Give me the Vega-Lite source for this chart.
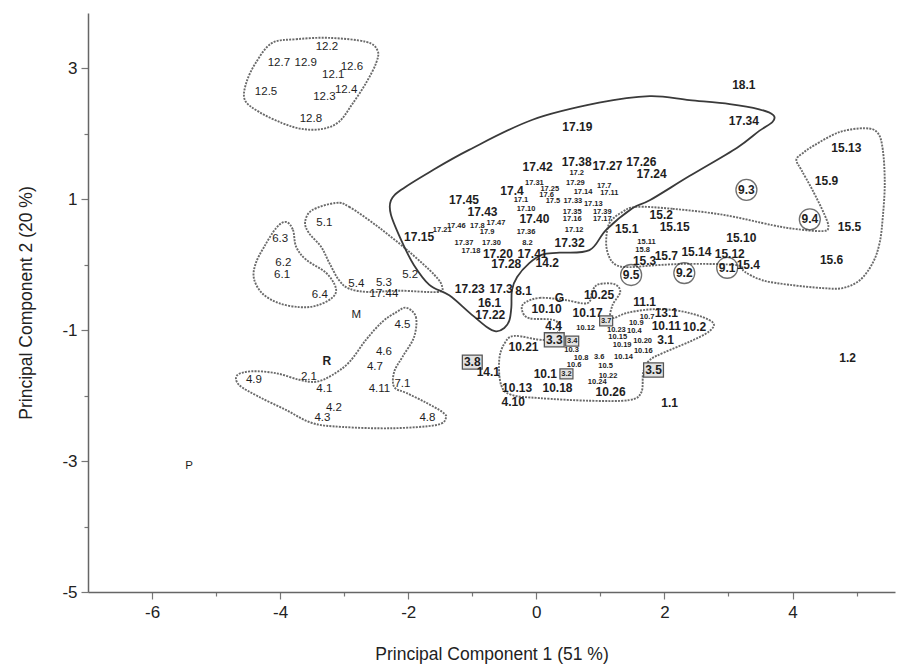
{
 "$schema": "https://vega.github.io/schema/vega-lite/v6.json",
 "width": 807, "height": 579,
 "autosize": {"type": "none"},
 "padding": {"left": 88, "top": 13, "right": 3, "bottom": 78},
 "background": "white",
 "config": {"view": {"stroke": null}, "font": "Liberation Sans"},
 "datasets": {
  "pts": [
   {"label":"12.2","pc1":-3.27,"pc2":3.32,"type":"plain"},
   {"label":"12.7","pc1":-4.02,"pc2":3.08,"type":"plain"},
   {"label":"12.9","pc1":-3.6,"pc2":3.08,"type":"plain"},
   {"label":"12.6","pc1":-2.88,"pc2":3.02,"type":"plain"},
   {"label":"12.1","pc1":-3.17,"pc2":2.89,"type":"plain"},
   {"label":"12.4","pc1":-2.97,"pc2":2.66,"type":"plain"},
   {"label":"12.3","pc1":-3.31,"pc2":2.56,"type":"plain"},
   {"label":"12.5","pc1":-4.22,"pc2":2.63,"type":"plain"},
   {"label":"12.8","pc1":-3.52,"pc2":2.22,"type":"plain"},
   {"label":"5.1","pc1":-3.31,"pc2":0.63,"type":"plain"},
   {"label":"6.3","pc1":-4.0,"pc2":0.39,"type":"plain"},
   {"label":"6.2","pc1":-3.95,"pc2":0.02,"type":"plain"},
   {"label":"6.1","pc1":-3.97,"pc2":-0.16,"type":"plain"},
   {"label":"6.4","pc1":-3.38,"pc2":-0.47,"type":"plain"},
   {"label":"5.4","pc1":-2.81,"pc2":-0.3,"type":"plain"},
   {"label":"5.3","pc1":-2.38,"pc2":-0.28,"type":"plain"},
   {"label":"17.44","pc1":-2.38,"pc2":-0.45,"type":"plain"},
   {"label":"5.2","pc1":-1.97,"pc2":-0.16,"type":"plain"},
   {"label":"M","pc1":-2.81,"pc2":-0.77,"type":"plain"},
   {"label":"4.5","pc1":-2.09,"pc2":-0.92,"type":"plain"},
   {"label":"4.6","pc1":-2.38,"pc2":-1.34,"type":"plain"},
   {"label":"R","pc1":-3.27,"pc2":-1.47,"type":"bold"},
   {"label":"4.7","pc1":-2.52,"pc2":-1.56,"type":"plain"},
   {"label":"2.1","pc1":-3.55,"pc2":-1.72,"type":"plain"},
   {"label":"4.9","pc1":-4.41,"pc2":-1.76,"type":"plain"},
   {"label":"4.1","pc1":-3.31,"pc2":-1.9,"type":"plain"},
   {"label":"4.11","pc1":-2.45,"pc2":-1.9,"type":"plain"},
   {"label":"7.1","pc1":-2.09,"pc2":-1.82,"type":"plain"},
   {"label":"4.2","pc1":-3.16,"pc2":-2.19,"type":"plain"},
   {"label":"4.3","pc1":-3.34,"pc2":-2.34,"type":"plain"},
   {"label":"4.8","pc1":-1.7,"pc2":-2.34,"type":"plain"},
   {"label":"P","pc1":-5.42,"pc2":-3.08,"type":"plain"},
   {"label":"17.19","pc1":0.64,"pc2":2.1,"type":"bold"},
   {"label":"17.42","pc1":0.02,"pc2":1.49,"type":"bold"},
   {"label":"17.38","pc1":0.63,"pc2":1.56,"type":"bold"},
   {"label":"17.27","pc1":1.11,"pc2":1.5,"type":"bold"},
   {"label":"17.26","pc1":1.64,"pc2":1.56,"type":"bold"},
   {"label":"17.24","pc1":1.8,"pc2":1.38,"type":"bold"},
   {"label":"17.2","pc1":0.63,"pc2":1.4,"type":"small"},
   {"label":"17.31","pc1":-0.03,"pc2":1.24,"type":"small"},
   {"label":"17.29","pc1":0.61,"pc2":1.24,"type":"small"},
   {"label":"17.7","pc1":1.06,"pc2":1.2,"type":"small"},
   {"label":"17.11","pc1":1.14,"pc2":1.09,"type":"small"},
   {"label":"17.4","pc1":-0.38,"pc2":1.12,"type":"bold"},
   {"label":"17.25","pc1":0.21,"pc2":1.16,"type":"small"},
   {"label":"17.14","pc1":0.73,"pc2":1.11,"type":"small"},
   {"label":"17.6","pc1":0.16,"pc2":1.06,"type":"small"},
   {"label":"17.5","pc1":0.26,"pc2":0.97,"type":"small"},
   {"label":"17.33","pc1":0.57,"pc2":0.97,"type":"small"},
   {"label":"17.13","pc1":0.89,"pc2":0.93,"type":"small"},
   {"label":"17.1","pc1":-0.24,"pc2":0.98,"type":"small"},
   {"label":"17.45","pc1":-1.13,"pc2":0.98,"type":"bold"},
   {"label":"17.10","pc1":-0.16,"pc2":0.85,"type":"small"},
   {"label":"17.43","pc1":-0.84,"pc2":0.8,"type":"bold"},
   {"label":"17.40","pc1":-0.03,"pc2":0.69,"type":"bold"},
   {"label":"17.35","pc1":0.56,"pc2":0.8,"type":"small"},
   {"label":"17.39","pc1":1.03,"pc2":0.8,"type":"small"},
   {"label":"17.16","pc1":0.56,"pc2":0.69,"type":"small"},
   {"label":"17.17","pc1":1.03,"pc2":0.69,"type":"small"},
   {"label":"17.46","pc1":-1.25,"pc2":0.59,"type":"small"},
   {"label":"17.8","pc1":-0.92,"pc2":0.59,"type":"small"},
   {"label":"17.47","pc1":-0.63,"pc2":0.63,"type":"small"},
   {"label":"17.21","pc1":-1.47,"pc2":0.53,"type":"small"},
   {"label":"17.15","pc1":-1.83,"pc2":0.42,"type":"bold"},
   {"label":"17.12","pc1":0.59,"pc2":0.53,"type":"small"},
   {"label":"17.9","pc1":-0.77,"pc2":0.5,"type":"small"},
   {"label":"17.36","pc1":-0.16,"pc2":0.5,"type":"small"},
   {"label":"17.37","pc1":-1.13,"pc2":0.33,"type":"small"},
   {"label":"17.30","pc1":-0.7,"pc2":0.33,"type":"small"},
   {"label":"8.2","pc1":-0.14,"pc2":0.33,"type":"small"},
   {"label":"17.32","pc1":0.52,"pc2":0.33,"type":"bold"},
   {"label":"17.18","pc1":-1.02,"pc2":0.21,"type":"small"},
   {"label":"17.20","pc1":-0.6,"pc2":0.16,"type":"bold"},
   {"label":"17.41","pc1":-0.06,"pc2":0.16,"type":"bold"},
   {"label":"17.28","pc1":-0.47,"pc2":0.01,"type":"bold"},
   {"label":"14.2","pc1":0.17,"pc2":0.02,"type":"bold"},
   {"label":"17.23","pc1":-1.04,"pc2":-0.37,"type":"bold"},
   {"label":"17.3","pc1":-0.55,"pc2":-0.37,"type":"bold"},
   {"label":"8.1","pc1":-0.2,"pc2":-0.4,"type":"bold"},
   {"label":"16.1","pc1":-0.73,"pc2":-0.59,"type":"bold"},
   {"label":"17.22","pc1":-0.72,"pc2":-0.77,"type":"bold"},
   {"label":"18.1","pc1":3.24,"pc2":2.74,"type":"bold"},
   {"label":"17.34","pc1":3.24,"pc2":2.19,"type":"bold"},
   {"label":"15.13","pc1":4.84,"pc2":1.78,"type":"bold"},
   {"label":"15.9","pc1":4.53,"pc2":1.27,"type":"bold"},
   {"label":"15.5","pc1":4.89,"pc2":0.57,"type":"bold"},
   {"label":"15.6","pc1":4.61,"pc2":0.07,"type":"bold"},
   {"label":"15.2","pc1":1.95,"pc2":0.76,"type":"bold"},
   {"label":"15.15","pc1":2.16,"pc2":0.57,"type":"bold"},
   {"label":"15.1","pc1":1.41,"pc2":0.54,"type":"bold"},
   {"label":"15.10","pc1":3.2,"pc2":0.4,"type":"bold"},
   {"label":"15.11","pc1":1.72,"pc2":0.34,"type":"small"},
   {"label":"15.8","pc1":1.66,"pc2":0.22,"type":"small"},
   {"label":"15.3","pc1":1.69,"pc2":0.05,"type":"bold"},
   {"label":"15.7","pc1":2.03,"pc2":0.13,"type":"bold"},
   {"label":"15.14","pc1":2.5,"pc2":0.19,"type":"bold"},
   {"label":"15.12","pc1":3.02,"pc2":0.16,"type":"bold"},
   {"label":"15.4","pc1":3.31,"pc2":-0.01,"type":"bold"},
   {"label":"9.3","pc1":3.28,"pc2":1.14,"type":"circled"},
   {"label":"9.4","pc1":4.27,"pc2":0.69,"type":"circled"},
   {"label":"9.5","pc1":1.48,"pc2":-0.16,"type":"circled"},
   {"label":"9.2","pc1":2.31,"pc2":-0.13,"type":"circled"},
   {"label":"9.1","pc1":2.98,"pc2":-0.05,"type":"circled"},
   {"label":"G","pc1":0.36,"pc2":-0.51,"type":"bold"},
   {"label":"10.25","pc1":0.98,"pc2":-0.47,"type":"bold"},
   {"label":"10.10","pc1":0.16,"pc2":-0.68,"type":"bold"},
   {"label":"10.17","pc1":0.8,"pc2":-0.74,"type":"bold"},
   {"label":"3.7","pc1":1.09,"pc2":-0.86,"type":"smallbox"},
   {"label":"4.4","pc1":0.27,"pc2":-0.94,"type":"bold"},
   {"label":"11.1","pc1":1.69,"pc2":-0.57,"type":"bold"},
   {"label":"13.1","pc1":2.03,"pc2":-0.74,"type":"bold"},
   {"label":"10.7","pc1":1.73,"pc2":-0.8,"type":"small"},
   {"label":"10.12","pc1":0.77,"pc2":-0.97,"type":"small"},
   {"label":"10.9","pc1":1.56,"pc2":-0.89,"type":"small"},
   {"label":"10.11","pc1":2.03,"pc2":-0.94,"type":"bold"},
   {"label":"10.2","pc1":2.47,"pc2":-0.95,"type":"bold"},
   {"label":"10.23","pc1":1.25,"pc2":-1.0,"type":"small"},
   {"label":"10.4","pc1":1.53,"pc2":-1.02,"type":"small"},
   {"label":"10.15","pc1":1.27,"pc2":-1.11,"type":"small"},
   {"label":"10.20","pc1":1.66,"pc2":-1.17,"type":"small"},
   {"label":"3.1","pc1":2.02,"pc2":-1.15,"type":"bold"},
   {"label":"10.19","pc1":1.34,"pc2":-1.23,"type":"small"},
   {"label":"10.16","pc1":1.67,"pc2":-1.32,"type":"small"},
   {"label":"3.3","pc1":0.28,"pc2":-1.15,"type":"box"},
   {"label":"3.4","pc1":0.56,"pc2":-1.17,"type":"smallbox"},
   {"label":"10.21","pc1":-0.2,"pc2":-1.26,"type":"bold"},
   {"label":"10.3","pc1":0.55,"pc2":-1.31,"type":"small"},
   {"label":"10.8","pc1":0.7,"pc2":-1.43,"type":"small"},
   {"label":"3.6","pc1":0.98,"pc2":-1.41,"type":"small"},
   {"label":"10.14","pc1":1.36,"pc2":-1.41,"type":"small"},
   {"label":"10.6","pc1":0.59,"pc2":-1.53,"type":"small"},
   {"label":"10.5","pc1":1.08,"pc2":-1.55,"type":"small"},
   {"label":"3.8","pc1":-1.0,"pc2":-1.49,"type":"box"},
   {"label":"14.1","pc1":-0.75,"pc2":-1.64,"type":"bold"},
   {"label":"3.5","pc1":1.83,"pc2":-1.61,"type":"box"},
   {"label":"10.1","pc1":0.14,"pc2":-1.67,"type":"bold"},
   {"label":"3.2","pc1":0.47,"pc2":-1.67,"type":"smallbox"},
   {"label":"10.22","pc1":1.12,"pc2":-1.7,"type":"small"},
   {"label":"10.24","pc1":0.95,"pc2":-1.79,"type":"small"},
   {"label":"10.13","pc1":-0.3,"pc2":-1.89,"type":"bold"},
   {"label":"10.18","pc1":0.33,"pc2":-1.89,"type":"bold"},
   {"label":"10.26","pc1":1.16,"pc2":-1.95,"type":"bold"},
   {"label":"4.10","pc1":-0.36,"pc2":-2.1,"type":"bold"},
   {"label":"1.1","pc1":2.08,"pc2":-2.11,"type":"bold"},
   {"label":"1.2","pc1":4.86,"pc2":-1.43,"type":"bold"}
  ],
  "hull": [
   {"group":"g12","i":0,"pc1":-4.13,"pc2":3.38},{"group":"g12","i":1,"pc1":-3.75,"pc2":3.44},{"group":"g12","i":2,"pc1":-3.23,"pc2":3.46},{"group":"g12","i":3,"pc1":-2.66,"pc2":3.4},{"group":"g12","i":4,"pc1":-2.48,"pc2":3.27},{"group":"g12","i":5,"pc1":-2.5,"pc2":3.08},{"group":"g12","i":6,"pc1":-2.66,"pc2":2.77},{"group":"g12","i":7,"pc1":-2.88,"pc2":2.44},{"group":"g12","i":8,"pc1":-3.08,"pc2":2.18},{"group":"g12","i":9,"pc1":-3.34,"pc2":2.07},{"group":"g12","i":10,"pc1":-3.66,"pc2":2.07},{"group":"g12","i":11,"pc1":-3.97,"pc2":2.16},{"group":"g12","i":12,"pc1":-4.33,"pc2":2.33},{"group":"g12","i":13,"pc1":-4.55,"pc2":2.51},{"group":"g12","i":14,"pc1":-4.53,"pc2":2.77},{"group":"g12","i":15,"pc1":-4.38,"pc2":3.08},
   {"group":"g6","i":0,"pc1":-3.91,"pc2":0.65},{"group":"g6","i":1,"pc1":-3.8,"pc2":0.53},{"group":"g6","i":2,"pc1":-3.75,"pc2":0.27},{"group":"g6","i":3,"pc1":-3.59,"pc2":0.07},{"group":"g6","i":4,"pc1":-3.28,"pc2":-0.13},{"group":"g6","i":5,"pc1":-3.13,"pc2":-0.36},{"group":"g6","i":6,"pc1":-3.19,"pc2":-0.51},{"group":"g6","i":7,"pc1":-3.44,"pc2":-0.63},{"group":"g6","i":8,"pc1":-3.7,"pc2":-0.65},{"group":"g6","i":9,"pc1":-4.02,"pc2":-0.59},{"group":"g6","i":10,"pc1":-4.28,"pc2":-0.44},{"group":"g6","i":11,"pc1":-4.41,"pc2":-0.21},{"group":"g6","i":12,"pc1":-4.38,"pc2":0.02},{"group":"g6","i":13,"pc1":-4.25,"pc2":0.27},{"group":"g6","i":14,"pc1":-4.06,"pc2":0.56},
   {"group":"g5","i":0,"pc1":-3.13,"pc2":0.94},{"group":"g5","i":1,"pc1":-2.92,"pc2":0.88},{"group":"g5","i":2,"pc1":-2.45,"pc2":0.56},{"group":"g5","i":3,"pc1":-1.98,"pc2":0.19},{"group":"g5","i":4,"pc1":-1.59,"pc2":-0.16},{"group":"g5","i":5,"pc1":-1.47,"pc2":-0.34},{"group":"g5","i":6,"pc1":-1.55,"pc2":-0.42},{"group":"g5","i":7,"pc1":-2.14,"pc2":-0.4},{"group":"g5","i":8,"pc1":-2.61,"pc2":-0.42},{"group":"g5","i":9,"pc1":-2.92,"pc2":-0.37},{"group":"g5","i":10,"pc1":-3.08,"pc2":-0.24},{"group":"g5","i":11,"pc1":-3.23,"pc2":0.02},{"group":"g5","i":12,"pc1":-3.36,"pc2":0.27},{"group":"g5","i":13,"pc1":-3.55,"pc2":0.48},{"group":"g5","i":14,"pc1":-3.61,"pc2":0.65},{"group":"g5","i":15,"pc1":-3.5,"pc2":0.83},
   {"group":"g4","i":0,"pc1":-2.03,"pc2":-0.66},{"group":"g4","i":1,"pc1":-1.88,"pc2":-0.8},{"group":"g4","i":2,"pc1":-1.91,"pc2":-1.11},{"group":"g4","i":3,"pc1":-2.09,"pc2":-1.41},{"group":"g4","i":4,"pc1":-2.22,"pc2":-1.64},{"group":"g4","i":5,"pc1":-2.22,"pc2":-1.87},{"group":"g4","i":6,"pc1":-2.03,"pc2":-1.96},{"group":"g4","i":7,"pc1":-1.72,"pc2":-2.11},{"group":"g4","i":8,"pc1":-1.47,"pc2":-2.25},{"group":"g4","i":9,"pc1":-1.41,"pc2":-2.34},{"group":"g4","i":10,"pc1":-1.56,"pc2":-2.45},{"group":"g4","i":11,"pc1":-2.25,"pc2":-2.5},{"group":"g4","i":12,"pc1":-3.03,"pc2":-2.48},{"group":"g4","i":13,"pc1":-3.5,"pc2":-2.42},{"group":"g4","i":14,"pc1":-3.91,"pc2":-2.22},{"group":"g4","i":15,"pc1":-4.33,"pc2":-2.02},{"group":"g4","i":16,"pc1":-4.64,"pc2":-1.84},{"group":"g4","i":17,"pc1":-4.67,"pc2":-1.69},{"group":"g4","i":18,"pc1":-4.44,"pc2":-1.63},{"group":"g4","i":19,"pc1":-4.06,"pc2":-1.66},{"group":"g4","i":20,"pc1":-3.7,"pc2":-1.76},{"group":"g4","i":21,"pc1":-3.44,"pc2":-1.79},{"group":"g4","i":22,"pc1":-3.19,"pc2":-1.69},{"group":"g4","i":23,"pc1":-2.92,"pc2":-1.49},{"group":"g4","i":24,"pc1":-2.66,"pc2":-1.15},{"group":"g4","i":25,"pc1":-2.41,"pc2":-0.88},{"group":"g4","i":26,"pc1":-2.19,"pc2":-0.73},
   {"group":"g17","i":0,"pc1":-0.63,"pc2":-1.02},{"group":"g17","i":1,"pc1":-0.78,"pc2":-0.95},{"group":"g17","i":2,"pc1":-1.05,"pc2":-0.73},{"group":"g17","i":3,"pc1":-1.36,"pc2":-0.47},{"group":"g17","i":4,"pc1":-1.67,"pc2":-0.31},{"group":"g17","i":5,"pc1":-1.91,"pc2":-0.01},{"group":"g17","i":6,"pc1":-2.09,"pc2":0.33},{"group":"g17","i":7,"pc1":-2.27,"pc2":0.76},{"group":"g17","i":8,"pc1":-2.27,"pc2":0.98},{"group":"g17","i":9,"pc1":-2.11,"pc2":1.14},{"group":"g17","i":10,"pc1":-1.67,"pc2":1.41},{"group":"g17","i":11,"pc1":-1.05,"pc2":1.75},{"group":"g17","i":12,"pc1":-0.06,"pc2":2.21},{"group":"g17","i":13,"pc1":0.98,"pc2":2.47},{"group":"g17","i":14,"pc1":1.77,"pc2":2.57},{"group":"g17","i":15,"pc1":2.39,"pc2":2.51},{"group":"g17","i":16,"pc1":3.02,"pc2":2.45},{"group":"g17","i":17,"pc1":3.48,"pc2":2.37},{"group":"g17","i":18,"pc1":3.7,"pc2":2.28},{"group":"g17","i":19,"pc1":3.69,"pc2":2.18},{"group":"g17","i":20,"pc1":3.48,"pc2":2.04},{"group":"g17","i":21,"pc1":3.13,"pc2":1.78},{"group":"g17","i":22,"pc1":2.39,"pc2":1.35},{"group":"g17","i":23,"pc1":1.77,"pc2":0.98},{"group":"g17","i":24,"pc1":1.5,"pc2":0.86},{"group":"g17","i":25,"pc1":1.09,"pc2":0.53},{"group":"g17","i":26,"pc1":0.83,"pc2":0.22},{"group":"g17","i":27,"pc1":0.36,"pc2":0.18},{"group":"g17","i":28,"pc1":0.09,"pc2":0.15},{"group":"g17","i":29,"pc1":-0.11,"pc2":0.02},{"group":"g17","i":30,"pc1":-0.3,"pc2":-0.19},{"group":"g17","i":31,"pc1":-0.38,"pc2":-0.39},{"group":"g17","i":32,"pc1":-0.39,"pc2":-0.65},{"group":"g17","i":33,"pc1":-0.42,"pc2":-0.85},{"group":"g17","i":34,"pc1":-0.5,"pc2":-0.97},
   {"group":"g15","i":0,"pc1":1.56,"pc2":0.88},{"group":"g15","i":1,"pc1":2.13,"pc2":0.85},{"group":"g15","i":2,"pc1":2.91,"pc2":0.76},{"group":"g15","i":3,"pc1":3.69,"pc2":0.6},{"group":"g15","i":4,"pc1":4.06,"pc2":0.54},{"group":"g15","i":5,"pc1":4.47,"pc2":0.51},{"group":"g15","i":6,"pc1":4.56,"pc2":0.57},{"group":"g15","i":7,"pc1":4.5,"pc2":0.76},{"group":"g15","i":8,"pc1":4.31,"pc2":1.14},{"group":"g15","i":9,"pc1":4.14,"pc2":1.44},{"group":"g15","i":10,"pc1":4.06,"pc2":1.6},{"group":"g15","i":11,"pc1":4.16,"pc2":1.7},{"group":"g15","i":12,"pc1":4.34,"pc2":1.82},{"group":"g15","i":13,"pc1":4.73,"pc2":2.02},{"group":"g15","i":14,"pc1":5.13,"pc2":2.08},{"group":"g15","i":15,"pc1":5.33,"pc2":2.01},{"group":"g15","i":16,"pc1":5.41,"pc2":1.75},{"group":"g15","i":17,"pc1":5.44,"pc2":1.24},{"group":"g15","i":18,"pc1":5.41,"pc2":0.73},{"group":"g15","i":19,"pc1":5.36,"pc2":0.33},{"group":"g15","i":20,"pc1":5.25,"pc2":0.02},{"group":"g15","i":21,"pc1":5.05,"pc2":-0.24},{"group":"g15","i":22,"pc1":4.78,"pc2":-0.36},{"group":"g15","i":23,"pc1":4.47,"pc2":-0.36},{"group":"g15","i":24,"pc1":3.95,"pc2":-0.31},{"group":"g15","i":25,"pc1":3.53,"pc2":-0.24},{"group":"g15","i":26,"pc1":3.25,"pc2":-0.11},{"group":"g15","i":27,"pc1":3.13,"pc2":-0.01},{"group":"g15","i":28,"pc1":2.39,"pc2":0.01},{"group":"g15","i":29,"pc1":1.88,"pc2":-0.01},{"group":"g15","i":30,"pc1":1.45,"pc2":-0.04},{"group":"g15","i":31,"pc1":1.25,"pc2":-0.01},{"group":"g15","i":32,"pc1":1.14,"pc2":0.11},{"group":"g15","i":33,"pc1":1.09,"pc2":0.33},{"group":"g15","i":34,"pc1":1.14,"pc2":0.63},{"group":"g15","i":35,"pc1":1.34,"pc2":0.8},
   {"group":"g10","i":0,"pc1":-0.19,"pc2":-0.59},{"group":"g10","i":1,"pc1":0.05,"pc2":-0.51},{"group":"g10","i":2,"pc1":0.44,"pc2":-0.54},{"group":"g10","i":3,"pc1":0.8,"pc2":-0.59},{"group":"g10","i":4,"pc1":0.88,"pc2":-0.39},{"group":"g10","i":5,"pc1":0.98,"pc2":-0.3},{"group":"g10","i":6,"pc1":1.22,"pc2":-0.3},{"group":"g10","i":7,"pc1":1.31,"pc2":-0.42},{"group":"g10","i":8,"pc1":1.19,"pc2":-0.62},{"group":"g10","i":9,"pc1":1.17,"pc2":-0.82},{"group":"g10","i":10,"pc1":1.45,"pc2":-0.73},{"group":"g10","i":11,"pc1":1.92,"pc2":-0.68},{"group":"g10","i":12,"pc1":2.39,"pc2":-0.74},{"group":"g10","i":13,"pc1":2.75,"pc2":-0.88},{"group":"g10","i":14,"pc1":2.7,"pc2":-1.02},{"group":"g10","i":15,"pc1":2.39,"pc2":-1.18},{"group":"g10","i":16,"pc1":2.0,"pc2":-1.34},{"group":"g10","i":17,"pc1":1.77,"pc2":-1.46},{"group":"g10","i":18,"pc1":1.67,"pc2":-1.64},{"group":"g10","i":19,"pc1":1.64,"pc2":-1.95},{"group":"g10","i":20,"pc1":1.45,"pc2":-2.07},{"group":"g10","i":21,"pc1":0.83,"pc2":-2.08},{"group":"g10","i":22,"pc1":0.05,"pc2":-2.04},{"group":"g10","i":23,"pc1":-0.39,"pc2":-1.99},{"group":"g10","i":24,"pc1":-0.55,"pc2":-1.84},{"group":"g10","i":25,"pc1":-0.58,"pc2":-1.46},{"group":"g10","i":26,"pc1":-0.5,"pc2":-1.21},{"group":"g10","i":27,"pc1":-0.34,"pc2":-1.09},{"group":"g10","i":28,"pc1":0.13,"pc2":-1.15},{"group":"g10","i":29,"pc1":0.36,"pc2":-1.0},{"group":"g10","i":30,"pc1":0.28,"pc2":-0.85},{"group":"g10","i":31,"pc1":-0.11,"pc2":-0.82},{"group":"g10","i":32,"pc1":-0.22,"pc2":-0.71}
  ]
 },
 "encoding": {
  "x": {"field": "pc1", "type": "quantitative",
   "scale": {"domain": [-7, 5.6], "nice": false, "zero": false},
   "axis": {"title": "Principal Component 1 (51 %)",
    "values": [-6,-5,-4,-3,-2,-1,0,1,2,3,4,5],
    "labelExpr": "abs(datum.value % 2) < 0.5 ? '' + datum.value : ''",
    "tickSize": {"condition": {"test": "abs(datum.value % 2) < 0.5", "value": 7}, "value": 4},
    "labelFontSize": 17, "titleFontSize": 17.5, "titleFontWeight": "normal",
    "labelColor": "#222", "titleColor": "#222", "domainColor": "#666", "tickColor": "#777",
    "domainWidth": 1.5, "tickWidth": 1.2, "grid": false, "labelPadding": 5, "titlePadding": 25,
    "labelFlush": false, "labelOverlap": false}},
  "y": {"field": "pc2", "type": "quantitative",
   "scale": {"domain": [-5, 3.84], "nice": false, "zero": false},
   "axis": {"title": "Principal Component 2 (20 %)",
    "values": [-5,-4,-3,-2,-1,0,1,2,3],
    "labelExpr": "abs(datum.value % 2) > 0.5 ? '' + datum.value : ''",
    "tickSize": {"condition": {"test": "abs(datum.value % 2) > 0.5", "value": 7}, "value": 4},
    "labelFontSize": 17, "titleFontSize": 17.5, "titleFontWeight": "normal",
    "labelColor": "#222", "titleColor": "#222", "domainColor": "#666", "tickColor": "#777",
    "domainWidth": 1.5, "tickWidth": 1.2, "grid": false, "labelPadding": 4, "titlePadding": 26,
    "labelFlush": false, "labelOverlap": false}}
 },
 "layer": [
  {"data": {"name": "hull"}, "transform": [{"filter": "datum.group != 'g17'"}],
   "mark": {"type": "line", "interpolate": "cardinal-closed", "stroke": "#6a6a6a", "strokeWidth": 1.9, "strokeDash": [2, 1.2]},
   "encoding": {"detail": {"field": "group"}, "order": {"field": "i", "type": "quantitative"}}},
  {"data": {"name": "hull"}, "transform": [{"filter": "datum.group == 'g17'"}],
   "mark": {"type": "line", "interpolate": "cardinal-closed", "stroke": "#3a3a3a", "strokeWidth": 1.8},
   "encoding": {"detail": {"field": "group"}, "order": {"field": "i", "type": "quantitative"}}},
  {"data": {"name": "pts"}, "transform": [{"filter": "datum.type == 'circled'"}],
   "mark": {"type": "point", "shape": "circle", "filled": false, "stroke": "#333", "strokeWidth": 1.3, "size": 440}},
  {"data": {"name": "pts"}, "transform": [{"filter": "datum.type == 'box'"}],
   "mark": {"type": "point", "shape": "M-1.4,-1L1.4,-1L1.4,1L-1.4,1Z", "filled": true, "fill": "#e2e2e2", "stroke": "#555", "strokeWidth": 1.3, "size": 200, "opacity": 1}},
  {"data": {"name": "pts"}, "transform": [{"filter": "datum.type == 'smallbox'"}],
   "mark": {"type": "point", "shape": "M-1.3,-1L1.3,-1L1.3,1L-1.3,1Z", "filled": true, "fill": "#e2e2e2", "stroke": "#555", "strokeWidth": 1.2, "size": 100, "opacity": 1}},
  {"data": {"name": "pts"}, "transform": [{"filter": "datum.type == 'plain'"}],
   "mark": {"type": "text", "fontSize": 11.5, "fill": "#1e1e1e", "align": "center", "baseline": "middle"},
   "encoding": {"text": {"field": "label"}}},
  {"data": {"name": "pts"}, "transform": [{"filter": "datum.type == 'bold' || datum.type == 'box' || datum.type == 'circled'"}],
   "mark": {"type": "text", "fontSize": 12, "fontWeight": "bold", "fill": "#1e1e1e", "align": "center", "baseline": "middle"},
   "encoding": {"text": {"field": "label"}}},
  {"data": {"name": "pts"}, "transform": [{"filter": "datum.type == 'small' || datum.type == 'smallbox'"}],
   "mark": {"type": "text", "fontSize": 7.5, "fontWeight": "bold", "fill": "#1e1e1e", "align": "center", "baseline": "middle"},
   "encoding": {"text": {"field": "label"}}}
 ]
}
